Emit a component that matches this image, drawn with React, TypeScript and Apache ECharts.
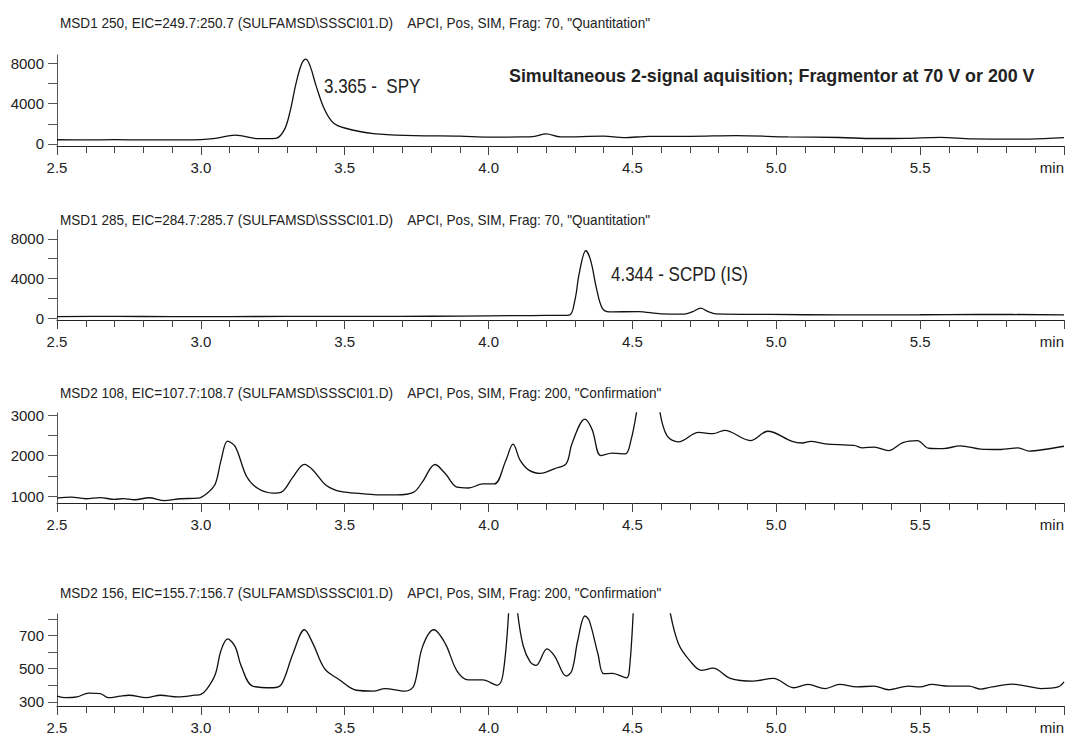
import React, { useEffect, useRef } from "react";
import * as echarts from "echarts";

const FONT = "'Liberation Sans', Arial, sans-serif";

// ---------- data ----------
const xTickLabels = ["2.5", "3.0", "3.5", "4.0", "4.5", "5.0", "5.5", "min"];

const panelTitles = [
  'MSD1 250, EIC=249.7:250.7 (SULFAMSD\\SSSCI01.D)    APCI, Pos, SIM, Frag: 70, "Quantitation"',
  'MSD1 285, EIC=284.7:285.7 (SULFAMSD\\SSSCI01.D)    APCI, Pos, SIM, Frag: 70, "Quantitation"',
  'MSD2 108, EIC=107.7:108.7 (SULFAMSD\\SSSCI01.D)    APCI, Pos, SIM, Frag: 200, "Confirmation"',
  'MSD2 156, EIC=155.7:156.7 (SULFAMSD\\SSSCI01.D)    APCI, Pos, SIM, Frag: 200, "Confirmation"',
];

const headline = "Simultaneous 2-signal aquisition; Fragmentor at 70 V or 200 V";
const peakLabels = ["3.365 -  SPY", "4.344 - SCPD (IS)"];

// panel 1: m/z 250, Frag 70
const time1 = [2.5, 2.6, 2.7, 2.8, 2.9, 3.0, 3.05, 3.12, 3.2, 3.26, 3.29, 3.31, 3.33, 3.35, 3.365, 3.38, 3.4, 3.43, 3.46, 3.5, 3.6, 3.74, 3.9, 4.0, 4.11, 4.16, 4.2, 4.25, 4.4, 4.47, 4.56, 4.7, 4.86, 5.04, 5.22, 5.34, 5.45, 5.57, 5.68, 5.88, 6.0];
const inten1 = [420, 400, 430, 400, 410, 440, 560, 880, 520, 560, 1400, 3200, 5900, 7900, 8400, 7700, 5800, 3400, 2100, 1580, 1020, 830, 770, 680, 700, 760, 1000, 700, 770, 620, 760, 760, 830, 700, 640, 540, 560, 660, 510, 480, 620];

// panel 2: m/z 285, Frag 70
const time2 = [2.5, 2.7, 2.9, 3.1, 3.3, 3.5, 3.7, 3.9, 4.1, 4.2, 4.28, 4.3, 4.315, 4.338, 4.355, 4.375, 4.395, 4.42, 4.52, 4.6, 4.68, 4.71, 4.737, 4.76, 4.79, 4.98, 5.22, 5.5, 5.7, 6.0];
const inten2 = [150, 170, 140, 150, 160, 170, 170, 200, 240, 260, 300, 1800, 4500, 6800, 5800, 3000, 1000, 620, 650, 420, 400, 650, 1000, 700, 420, 360, 320, 330, 370, 320];

// panel 3: m/z 108, Frag 200 (null = off scale)
const time3 = [2.5, 2.55, 2.6, 2.65, 2.7, 2.73, 2.77, 2.82, 2.87, 2.93, 2.99, 3.02, 3.05, 3.07, 3.093, 3.12, 3.16, 3.2, 3.25, 3.28, 3.32, 3.36, 3.39, 3.43, 3.47, 3.5, 3.56, 3.62, 3.68, 3.74, 3.77, 3.814, 3.85, 3.89, 3.93, 3.98, 4.02, 4.06, 4.085, 4.11, 4.14, 4.18, 4.23, 4.27, 4.29, 4.335, 4.36, 4.39, 4.43, 4.475, 4.495, 4.515, 4.55, 4.595, 4.62, 4.66, 4.73, 4.78, 4.82, 4.91, 4.97, 5.055, 5.09, 5.12, 5.17, 5.27, 5.3, 5.34, 5.39, 5.44, 5.49, 5.53, 5.58, 5.64, 5.71, 5.78, 5.84, 5.88, 5.93, 6.0];
const inten3 = [950, 975, 935, 965, 917, 940, 910, 960, 890, 935, 950, 1060, 1300, 1880, 2355, 2215, 1470, 1180, 1075, 1100, 1470, 1785, 1640, 1300, 1140, 1100, 1060, 1030, 1030, 1100, 1350, 1780, 1550, 1220, 1200, 1300, 1300, 1880, 2280, 1880, 1640, 1560, 1680, 1800, 2300, 2900, 2640, 2000, 2060, 2040, 2380, 3100, null, 3100, 2490, 2340, 2570, 2540, 2620, 2370, 2600, 2350, 2310, 2350, 2290, 2250, 2190, 2210, 2120, 2320, 2370, 2180, 2170, 2240, 2160, 2150, 2190, 2110, 2150, 2230];

// panel 4: m/z 156, Frag 200 (null = off scale)
const time4 = [2.5, 2.53, 2.57, 2.61, 2.65, 2.68, 2.72, 2.75, 2.81, 2.86, 2.92, 2.98, 3.0, 3.02, 3.05, 3.07, 3.093, 3.12, 3.14, 3.18, 3.25, 3.28, 3.32, 3.36, 3.39, 3.43, 3.48, 3.54, 3.6, 3.64, 3.71, 3.74, 3.77, 3.81, 3.85, 3.89, 3.93, 3.98, 4.03, 4.05, 4.07, 4.09, 4.1, 4.12, 4.145, 4.165, 4.203, 4.23, 4.27, 4.29, 4.31, 4.335, 4.35, 4.38, 4.4, 4.43, 4.48, 4.49, 4.503, 4.56, 4.63, 4.66, 4.7, 4.74, 4.78, 4.84, 4.92, 4.99, 5.06, 5.11, 5.17, 5.22, 5.28, 5.34, 5.39, 5.46, 5.5, 5.54, 5.6, 5.67, 5.71, 5.75, 5.82, 5.87, 5.92, 5.98, 6.0];
const inten4 = [335, 325, 330, 353, 350, 325, 335, 340, 325, 340, 330, 340, 345, 375, 465, 610, 680, 630, 517, 395, 385, 405, 590, 735, 650, 500, 435, 370, 365, 380, 365, 395, 630, 735, 650, 487, 432, 432, 400, 465, 850, null, 850, 640, 540, 520, 620, 575, 455, 490, 670, 818, 790, 590, 470, 472, 445, 505, 850, null, 850, 650, 547, 490, 503, 442, 425, 442, 385, 405, 380, 405, 390, 395, 373, 395, 390, 405, 395, 395, 377, 390, 407, 395, 380, 390, 420];

// y-axis scales per panel
const yMin = [-200, -200, 830, 275];
const yMax = [8800, 8900, 3050, 830];
const yTicks = [
  [0, 2000, 4000, 6000, 8000],
  [0, 2000, 4000, 6000, 8000],
  [1000, 1500, 2000, 2500, 3000],
  [300, 400, 500, 600, 700, 800],
];
const yLabels = [
  [0, 4000, 8000],
  [0, 4000, 8000],
  [1000, 2000, 3000],
  [300, 500, 700],
];

// layout (px)
const gridTop = [55, 230, 413, 614];
const gridHeight = [91, 90, 90, 94];
const titleY = [23, 220, 393, 593];

const times = [time1, time2, time3, time4];
const intens = [inten1, inten2, inten3, inten4];

export default function App() {
  const ref = useRef<HTMLDivElement>(null);
  useEffect(() => {
    if (!ref.current) return;
    const chart = echarts.init(ref.current, null, { renderer: "svg" });

    const grids = gridTop.map((t, i) => ({ left: 57, right: 5, top: t, height: gridHeight[i] }));
    const xAxes = gridTop.map((_, i) => ({
      type: "value",
      gridIndex: i,
      min: 2.5,
      max: 6.0,
      interval: 0.5,
      axisLine: { show: true, onZero: false, lineStyle: { color: "#222", width: 1.2 } },
      axisTick: { show: true, length: 9, lineStyle: { color: "#444", width: 1 } },
      minorTick: { show: true, splitNumber: 5, length: 7, lineStyle: { color: "#444", width: 1 } },
      splitLine: { show: false },
      axisLabel: {
        show: true,
        showMaxLabel: true,
        showMinLabel: true,
        alignMaxLabel: "right",
        margin: 14,
        color: "#222",
        fontSize: 15,
        fontFamily: FONT,
        formatter: (v: number) => xTickLabels[Math.round((v - 2.5) / 0.5)] ?? "",
      },
    }));
    const yAxes = gridTop.map((_, i) => ({
      type: "value",
      gridIndex: i,
      min: yMin[i],
      max: yMax[i],
      axisLine: { show: true, onZero: false, lineStyle: { color: "#555", width: 1 } },
      axisTick: { show: true, length: 9, customValues: yTicks[i], lineStyle: { color: "#555" } },
      splitLine: { show: false },
      axisLabel: {
        show: true,
        customValues: yLabels[i],
        margin: 13,
        color: "#222",
        fontSize: 15,
        fontFamily: FONT,
        formatter: (v: number) => String(v),
      },
    }));
    const series = times.map((ts, i) => ({
      type: "line",
      xAxisIndex: i,
      yAxisIndex: i,
      data: ts.map((t, k) => [t, intens[i][k]]),
      showSymbol: false,
      smooth: 0.35,
      connectNulls: false,
      clip: true,
      lineStyle: { color: "#111", width: 1.3 },
    }));

    const graphic: any[] = panelTitles.map((txt, i) => ({
      type: "text",
      x: 60,
      y: titleY[i],
      scaleX: 0.97,
      style: { text: txt, fontSize: 14, fontFamily: FONT, fill: "#222", verticalAlign: "middle" },
    }));
    graphic.push({
      type: "text",
      x: 324,
      y: 86,
      scaleX: 0.85,
      style: { text: peakLabels[0], fontSize: 20, fontFamily: FONT, fill: "#222", verticalAlign: "middle" },
    });
    graphic.push({
      type: "text",
      x: 611,
      y: 274,
      scaleX: 0.85,
      style: { text: peakLabels[1], fontSize: 20, fontFamily: FONT, fill: "#222", verticalAlign: "middle" },
    });
    graphic.push({
      type: "text",
      x: 509,
      y: 75,
      scaleX: 0.94,
      style: { text: headline, fontSize: 19, fontWeight: "bold", fontFamily: FONT, fill: "#222", verticalAlign: "middle" },
    });

    chart.setOption({
      animation: false,
      backgroundColor: "#fff",
      grid: grids,
      xAxis: xAxes,
      yAxis: yAxes,
      series,
      graphic,
    });
    return () => chart.dispose();
  }, []);
  return (
    <div
      ref={ref}
      style={{ position: "fixed", left: 0, top: 0, width: 1069, height: 735, background: "#fff" }}
    />
  );
}
